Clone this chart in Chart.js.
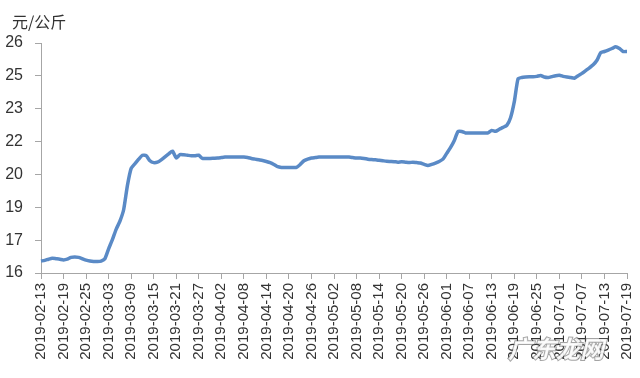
<!DOCTYPE html>
<html>
<head>
<meta charset="utf-8">
<script src="https://cdn.jsdelivr.net/npm/chart.js@4"></script>
<style>
html, body { margin: 0; padding: 0; background: #fff; }
#wrap { width: 640px; height: 378px; }
</style>
</head>
<body>
<div id="wrap"><canvas id="priceChart" width="640" height="378"></canvas></div>
<script>
// 日期范围（每日一个点），每6天显示一个标签
const firstDay = '2019-02-13';
const lastDay = '2019-07-19';
const labelStep = 6;

// 价格 元/公斤
const prices = [
  16.52, 16.55, 16.60, 16.64, 16.62, 16.60, 16.57, 16.60, 16.68, 16.70,
  16.68, 16.62, 16.56, 16.52, 16.50, 16.50, 16.52, 16.62, 17.05, 17.45,
  17.90, 18.25, 18.75, 19.80, 20.55, 20.75, 20.95, 21.12, 21.10, 20.88,
  20.80, 20.82, 20.92, 21.05, 21.18, 21.30, 21.00, 21.15, 21.14, 21.12,
  21.10, 21.10, 21.12, 20.98, 20.98, 20.98, 20.99, 21.00, 21.02, 21.04,
  21.04, 21.04, 21.04, 21.04, 21.04, 21.02, 20.98, 20.95, 20.92, 20.89,
  20.85, 20.80, 20.72, 20.62, 20.59, 20.59, 20.59, 20.59, 20.59, 20.72,
  20.88, 20.95, 21.00, 21.02, 21.04, 21.04, 21.04, 21.04, 21.04, 21.04,
  21.04, 21.04, 21.04, 21.02, 21.00, 21.00, 20.98, 20.95, 20.93, 20.92,
  20.90, 20.88, 20.86, 20.85, 20.84, 20.82, 20.84, 20.82, 20.80, 20.82,
  20.80, 20.78, 20.72, 20.67, 20.72, 20.78, 20.85, 20.95, 21.20, 21.45,
  21.75, 22.15, 22.15, 22.09, 22.09, 22.09, 22.09, 22.09, 22.09, 22.09,
  22.20, 22.16, 22.25, 22.33, 22.42, 22.75, 23.45, 24.45, 24.50, 24.52,
  24.53, 24.53, 24.55, 24.59, 24.52, 24.50, 24.54, 24.58, 24.60, 24.55,
  24.52, 24.50, 24.47, 24.58, 24.68, 24.80, 24.92, 25.05, 25.25, 25.58,
  25.63, 25.69, 25.76, 25.84, 25.76, 25.63, 25.63
];

// y轴刻度（原图标签是四舍五入后的）
const yTicks = [16, 17.43, 18.86, 20.29, 21.71, 23.14, 24.57, 26];
const yTickLabels = ['16', '17', '19', '20', '22', '23', '25', '26'];

const unitText = '元/公斤';
const watermarkText = '广东龙网';

function buildDates(from, to) {
  const out = [];
  const d = new Date(from + 'T00:00:00Z');
  const end = new Date(to + 'T00:00:00Z');
  while (d <= end) {
    out.push(d.toISOString().slice(0, 10));
    d.setUTCDate(d.getUTCDate() + 1);
  }
  return out;
}
const dates = buildDates(firstDay, lastDay);

const axisGrey = '#a6a6a6';

const extraText = {
  id: 'extraText',
  afterDraw(chart) {
    const c = chart.ctx;
    c.save();
    c.font = '16px "Noto Sans CJK SC"';
    c.fillStyle = '#333';
    c.textBaseline = 'middle';
    c.fillText(unitText, 12, 22);
    // 水印
    c.font = 'italic bold 24px "Noto Sans CJK SC"';
    c.textBaseline = 'middle';
    c.lineWidth = 2;
    c.strokeStyle = 'rgba(90,90,90,0.55)';
    c.fillStyle = 'rgba(255,255,255,0.9)';
    c.strokeText(watermarkText, 508, 349);
    c.fillText(watermarkText, 508, 349);
    c.restore();
  }
};

const ctx = document.getElementById('priceChart').getContext('2d');
new Chart(ctx, {
  type: 'line',
  data: {
    labels: dates,
    datasets: [{
      data: prices,
      borderColor: '#5a8ac6',
      borderWidth: 3.5,
      pointRadius: 0,
      tension: 0.2,
      fill: false
    }]
  },
  options: {
    responsive: false,
    animation: false,
    layout: { padding: { top: 43, right: 13, left: 0, bottom: 0 } },
    plugins: {
      legend: { display: false },
      tooltip: { enabled: false }
    },
    scales: {
      x: {
        ticks: {
          autoSkip: false,
          minRotation: 90,
          maxRotation: 90,
          padding: 4,
          color: '#333',
          font: { family: 'Liberation Sans', size: 15 },
          callback: (v, i) => (i % labelStep === 0 ? dates[i] : '')
        },
        grid: {
          drawOnChartArea: false,
          drawTicks: true,
          tickLength: 6,
          color: c => (c.index % labelStep === 0 ? axisGrey : 'rgba(0,0,0,0)')
        },
        border: { color: axisGrey, width: 1 },
        afterFit: s => { s.height = 105; s.paddingRight = 0; s.paddingLeft = 0; }
      },
      y: {
        min: 16,
        max: 26,
        afterBuildTicks: s => { s.ticks = yTicks.map(v => ({ value: v })); },
        ticks: {
          padding: 12,
          color: '#333',
          font: { family: 'Liberation Sans', size: 16 },
          callback: (v, i) => yTickLabels[i]
        },
        grid: { drawOnChartArea: false, drawTicks: true, tickLength: 6, color: axisGrey },
        border: { color: axisGrey, width: 1 },
        afterFit: s => { s.width = 41; }
      }
    }
  },
  plugins: [extraText]
});
</script>
</body>
</html>
